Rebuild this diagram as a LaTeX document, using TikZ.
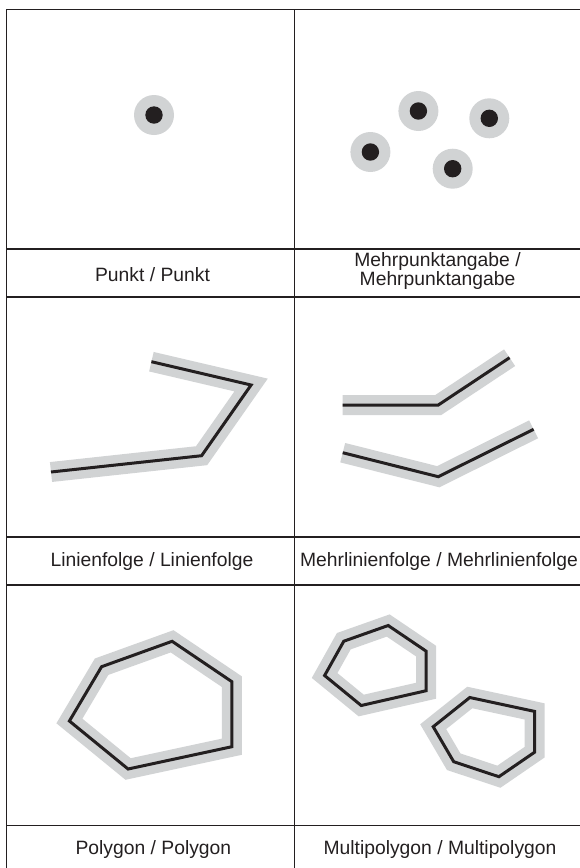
\documentclass[tikz,border=0pt]{standalone}
\usepackage{fontspec}
\setmainfont{Liberation Sans}
\definecolor{band}{RGB}{209,211,212}
\definecolor{ink}{RGB}{35,31,32}
\tikzset{
  frame/.style={draw=ink, line width=1.1pt},
  halo/.style={draw=band, line width=20pt, line cap=butt, line join=miter},
  geom/.style={draw=ink, line width=3pt, line cap=butt, line join=miter},
  halodot/.style={fill=band},
  inkdot/.style={fill=ink},
  lbl/.style={anchor=base, text=ink, font=\fontsize{19.3}{17.3}\selectfont, inner sep=0pt, align=center}
}
\begin{document}
\begin{tikzpicture}[x=1pt,y=-1pt]
\useasboundingbox (0,0) rectangle (579,868);
% frame
\draw[frame] (6.3,9.5) -- (584,9.5);
\draw[frame] (6.3,9.5) -- (6.3,870);
\draw[frame] (294.3,9.5) -- (294.3,870);
\foreach \yy in {249,297,537,585,825.5}{\draw[frame] (6.3,\yy) -- (584,\yy);}
% point
\fill[halodot] (154,115) circle (20);
\fill[inkdot] (154,115) circle (8.7);
% multipoint
\foreach \px/\py in {418.4/111, 489.3/118.3, 370.4/152, 452.7/168.7}{
  \fill[halodot] (\px,\py) circle (20);
  \fill[inkdot] (\px,\py) circle (8.7);
}
% line string
\draw[halo] (151.4,361.7) -- (251.1,385) -- (201.6,455.7) -- (51,472);
\draw[geom] (151.4,361.7) -- (251.1,385) -- (201.6,455.7) -- (51,472);
% multi line string
\draw[halo] (342.7,405) -- (438.3,405) -- (509.6,357.7);
\draw[geom] (342.7,405) -- (438.3,405) -- (509.6,357.7);
\draw[halo] (342.7,452.7) -- (438.3,476.7) -- (533.6,429.3);
\draw[geom] (342.7,452.7) -- (438.3,476.7) -- (533.6,429.3);
% polygon
\draw[halo] (101.6,666.7) -- (172.1,641.3) -- (231.9,681.7) -- (231.9,746.7) -- (128.1,769) -- (69.4,721) -- cycle;
\draw[geom] (101.6,666.7) -- (172.1,641.3) -- (231.9,681.7) -- (231.9,746.7) -- (128.1,769) -- (69.4,721) -- cycle;
% multipolygon
\draw[halo] (343.8,641.2) -- (388.2,625.5) -- (426.2,651.2) -- (426.2,690.7) -- (361.2,705.5) -- (324.6,675.5) -- cycle;
\draw[geom] (343.8,641.2) -- (388.2,625.5) -- (426.2,651.2) -- (426.2,690.7) -- (361.2,705.5) -- (324.6,675.5) -- cycle;
\draw[halo] (469.8,697.5) -- (534.6,711.4) -- (534.6,752.2) -- (498.9,776.7) -- (453.7,761.7) -- (433.2,726.7) -- cycle;
\draw[geom] (469.8,697.5) -- (534.6,711.4) -- (534.6,752.2) -- (498.9,776.7) -- (453.7,761.7) -- (433.2,726.7) -- cycle;
% labels
\node[lbl] (l1) at (152.5,281.7) {Punkt / Punkt};
\node[lbl] (l2) at (437.5,285.3) {Mehrpunktangabe /\\Mehrpunktangabe};
\node[lbl] (l3) at (152,566.7) {Linienfolge / Linienfolge};
\node[lbl] (l4) at (439,566.7) {Mehrlinienfolge / Mehrlinienfolge};
\node[lbl] (l5) at (153.4,854.3) {Polygon / Polygon};
\node[lbl] (l6) at (440,854.3) {Multipolygon / Multipolygon};
\end{tikzpicture}
\end{document}
